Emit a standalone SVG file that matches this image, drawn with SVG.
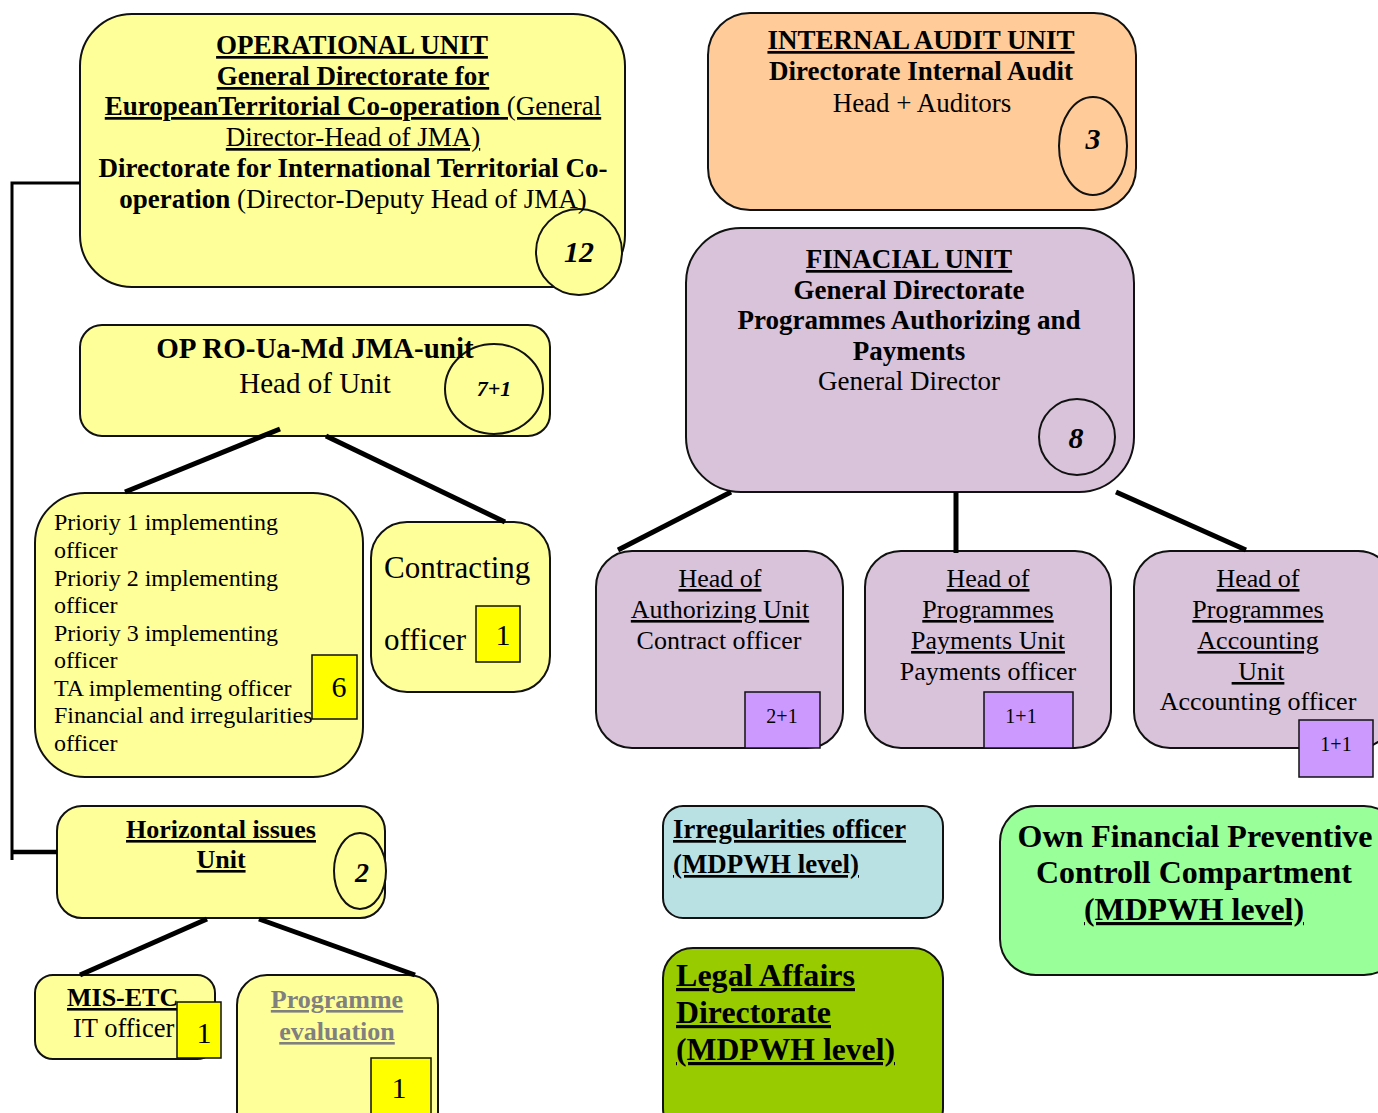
<svg xmlns="http://www.w3.org/2000/svg" width="1378" height="1113" viewBox="0 0 1378 1113" font-family="'Liberation Serif', 'DejaVu Serif', serif">
<style>
text{font-family:'Liberation Serif','DejaVu Serif','Times New Roman',serif;fill:#000}
.b{font-weight:bold}
.u{text-decoration:underline}
.c{text-anchor:middle}
.bi{font-weight:bold;font-style:italic;text-anchor:middle}
.box{stroke:#111;stroke-width:2}
.yel{fill:#FFFF99}
.org{fill:#FFCC99}
.pur{fill:#D8C3DA}
.sq{fill:#FFFF00;stroke:#111;stroke-width:1.5}
.psq{fill:#CC99FF;stroke:#111;stroke-width:1.5}
.con{stroke:#000;stroke-width:5;fill:none}
</style>
<rect width="1378" height="1113" fill="#fff"/>
<g id="operational">
<rect class="box yel" x="80" y="14" width="545" height="273" rx="52"/>
<ellipse class="box yel" cx="579" cy="252" rx="43" ry="43"/>
<text class="b u c" x="352" y="54" font-size="27">OPERATIONAL UNIT</text>
<text class="b u c" x="353" y="85" font-size="27">General Directorate for</text>
<text class="c u" x="353" y="115" font-size="27"><tspan class="b">EuropeanTerritorial Co-operation</tspan> (General</text>
<text class="c u" x="353" y="146" font-size="27">Director-Head of JMA)</text>
<text class="b c" x="353" y="177" font-size="27">Directorate for International Territorial Co-</text>
<text class="c" x="353" y="208" font-size="27"><tspan class="b">operation</tspan> (Director-Deputy Head of JMA)</text>
<text class="bi" x="579" y="262" font-size="30">12</text>
</g>
<g id="audit">
<rect class="box org" x="708" y="13" width="428" height="197" rx="42"/>
<ellipse class="box org" cx="1093" cy="146" rx="34" ry="49"/>
<text class="b u c" x="921" y="49" font-size="27">INTERNAL AUDIT UNIT</text>
<text class="b c" x="921" y="80" font-size="27">Directorate Internal Audit</text>
<text class="c" x="922" y="112" font-size="27">Head + Auditors</text>
<text class="bi" x="1093" y="149" font-size="30">3</text>
</g>
<g id="financial">
<rect class="box pur" x="686" y="228" width="448" height="264" rx="55"/>
<circle class="box pur" cx="1077" cy="437" r="38"/>
<text class="b u c" x="909" y="268" font-size="27">FINACIAL UNIT</text>
<text class="b c" x="909" y="299" font-size="27">General Directorate</text>
<text class="b c" x="909" y="329" font-size="27">Programmes Authorizing and</text>
<text class="b c" x="909" y="360" font-size="27">Payments</text>
<text class="c" x="909" y="390" font-size="27">General Director</text>
<text class="bi" x="1076" y="448" font-size="30">8</text>
</g>
<g id="op-ro">
<rect class="box yel" x="80" y="325" width="470" height="111" rx="22"/>
<ellipse class="box yel" cx="494" cy="389" rx="49" ry="45"/>
<text class="b c" x="315" y="358" font-size="29">OP RO-Ua-Md JMA-unit</text>
<text class="c" x="315" y="393" font-size="29">Head of Unit</text>
<text class="bi" x="494" y="396" font-size="22">7+1</text>
</g>
<g id="priorities">
<rect class="box yel" x="35" y="493" width="328" height="284" rx="50"/>
<rect class="sq" x="312" y="655" width="45" height="64"/>
<text x="54" y="530" font-size="24">Prioriy 1 implementing</text>
<text x="54" y="558" font-size="24">officer</text>
<text x="54" y="586" font-size="24">Prioriy 2 implementing</text>
<text x="54" y="613" font-size="24">officer</text>
<text x="54" y="641" font-size="24">Prioriy 3 implementing</text>
<text x="54" y="668" font-size="24">officer</text>
<text x="54" y="696" font-size="24">TA implementing officer</text>
<text x="54" y="723" font-size="24">Financial and irregularities</text>
<text x="54" y="751" font-size="24">officer</text>
<text class="c" x="339" y="697" font-size="30">6</text>
</g>
<g id="contracting">
<rect class="box yel" x="371" y="522" width="179" height="170" rx="36"/>
<rect class="sq" x="476" y="606" width="44" height="56"/>
<text x="384" y="578" font-size="31">Contracting</text>
<text x="384" y="650" font-size="31">officer</text>
<text class="c" x="503" y="645" font-size="30">1</text>
</g>
<g id="authorizing">
<rect class="box pur" x="596" y="551" width="247" height="197" rx="36"/>
<rect class="psq" x="745" y="692" width="75" height="56"/>
<text class="u c" x="720" y="587" font-size="26">Head of</text>
<text class="u c" x="720" y="618" font-size="26">Authorizing Unit</text>
<text class="c" x="719" y="649" font-size="26">Contract officer</text>
<text class="c" x="782" y="723" font-size="20">2+1</text>
</g>
<g id="payments">
<rect class="box pur" x="865" y="551" width="246" height="197" rx="36"/>
<rect class="psq" x="984" y="692" width="89" height="56"/>
<text class="u c" x="988" y="587" font-size="26">Head of</text>
<text class="u c" x="988" y="618" font-size="26">Programmes</text>
<text class="u c" x="988" y="649" font-size="26">Payments Unit</text>
<text class="c" x="988" y="680" font-size="26">Payments officer</text>
<text class="c" x="1021" y="723" font-size="20">1+1</text>
</g>
<g id="accounting">
<rect class="box pur" x="1134" y="551" width="260" height="197" rx="36"/>
<rect class="psq" x="1299" y="720" width="74" height="57"/>
<text class="u c" x="1258" y="587" font-size="26">Head of</text>
<text class="u c" x="1258" y="618" font-size="26">Programmes</text>
<text class="u c" x="1258" y="649" font-size="26">Accounting</text>
<text class="u c" x="1258" y="680" font-size="26" xml:space="preserve"> Unit</text>
<text class="c" x="1258" y="710" font-size="26">Accounting officer</text>
<text class="c" x="1336" y="751" font-size="20">1+1</text>
</g>
<g id="horizontal">
<rect class="box yel" x="57" y="806" width="328" height="112" rx="25"/>
<ellipse class="box yel" cx="360" cy="871" rx="26" ry="38"/>
<text class="b u c" x="221" y="838" font-size="26">Horizontal issues</text>
<text class="b u c" x="221" y="868" font-size="26">Unit</text>
<text class="bi" x="362" y="882" font-size="28">2</text>
</g>
<g id="mis-etc">
<rect class="box yel" x="35" y="975" width="180" height="84" rx="18"/>
<text class="b u" x="67" y="1006" font-size="26">MIS-ETC</text>
<text x="73" y="1037" font-size="26.5">IT officer</text>
<rect class="sq" x="177" y="1002" width="44" height="56"/>
<text class="c" x="204" y="1043" font-size="30">1</text>
</g>
<g id="evaluation">
<rect class="box yel" x="237" y="975" width="201" height="170" rx="30"/>
<rect class="sq" x="371" y="1058" width="60" height="70"/>
<text class="b u c" x="337" y="1008" font-size="26" style="fill:#808080">Programme</text>
<text class="b u c" x="337" y="1040" font-size="26" style="fill:#808080">evaluation</text>
<text class="c" x="399" y="1098" font-size="30">1</text>
</g>
<g id="irregularities">
<rect class="box" fill="#B9E1E4" x="663" y="806" width="280" height="112" rx="20"/>
<text class="b u" x="673" y="838" font-size="27" textLength="233" lengthAdjust="spacingAndGlyphs">Irregularities officer</text>
<text class="b u" x="673" y="873" font-size="27" textLength="186" lengthAdjust="spacingAndGlyphs">(MDPWH level)</text>
</g>
<g id="legal">
<rect class="box" fill="#99CC00" x="663" y="948" width="280" height="190" rx="30"/>
<text class="b u" x="676" y="986" font-size="32" textLength="179" lengthAdjust="spacingAndGlyphs">Legal Affairs</text>
<text class="b u" x="676" y="1023" font-size="32" textLength="155" lengthAdjust="spacingAndGlyphs">Directorate</text>
<text class="b u" x="676" y="1060" font-size="32" textLength="219" lengthAdjust="spacingAndGlyphs">(MDPWH level)</text>
</g>
<g id="own-financial">
<rect class="box" fill="#99FF99" x="1000" y="806" width="400" height="169" rx="36"/>
<text class="b c" x="1195" y="847" font-size="32" textLength="355" lengthAdjust="spacingAndGlyphs">Own Financial Preventive</text>
<text class="b c" x="1194" y="883" font-size="32" textLength="316" lengthAdjust="spacingAndGlyphs">Controll Compartment</text>
<text class="b u c" x="1194" y="920" font-size="32" textLength="220" lengthAdjust="spacingAndGlyphs">(MDPWH level)</text>
</g>
<g id="connectors">
<path d="M80,183 H12 V860" stroke="#000" stroke-width="3" fill="none"/>
<path d="M12,852 H57" stroke="#000" stroke-width="4.5" fill="none"/>
<line class="con" x1="280" y1="429" x2="125" y2="492"/>
<line class="con" x1="326" y1="436" x2="505" y2="522"/>
<line class="con" x1="731" y1="492" x2="618" y2="550"/>
<line class="con" x1="956" y1="492" x2="956" y2="553"/>
<line class="con" x1="1116" y1="492" x2="1246" y2="550"/>
<line class="con" x1="207" y1="919" x2="80" y2="975"/>
<line class="con" x1="259" y1="919" x2="415" y2="975"/>
</g>
</svg>
